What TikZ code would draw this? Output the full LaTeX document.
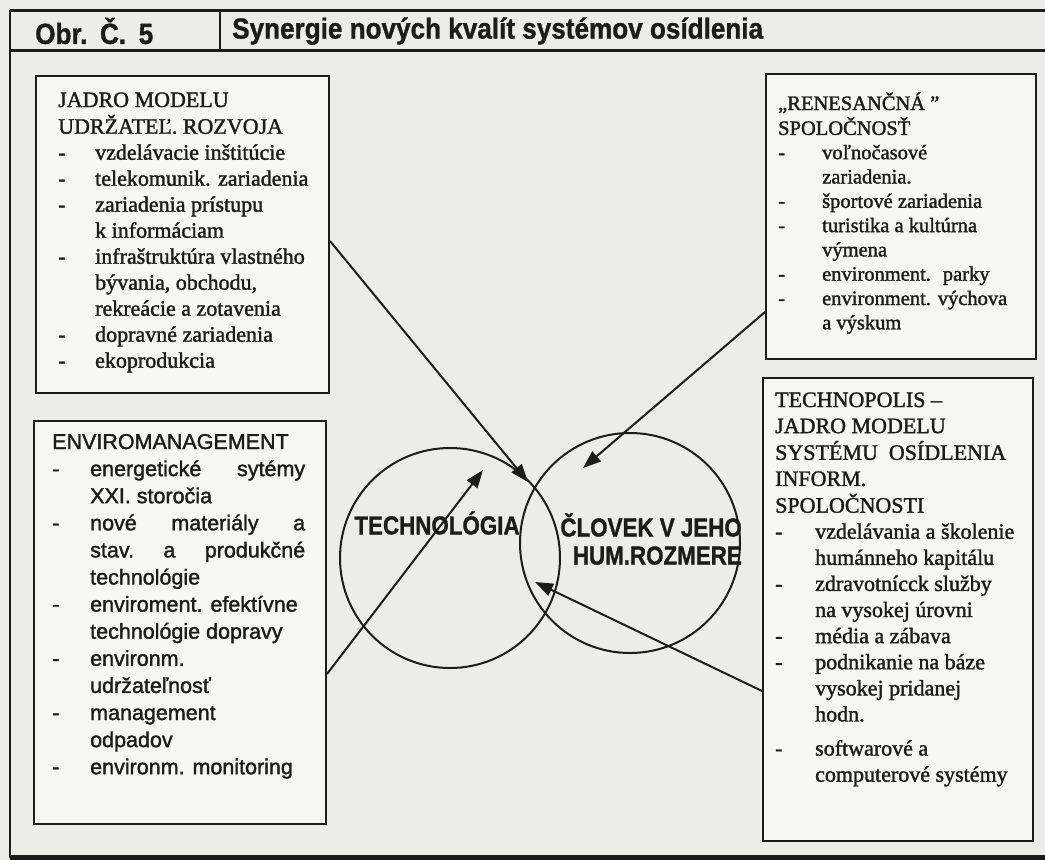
\documentclass[tikz,border=0pt]{standalone}
\usepackage{fontspec}
\usepackage{graphicx}
\setmainfont{Liberation Serif}[FakeBold=1.5]
\newfontfamily\sansf{Liberation Sans}[FakeBold=1.5]
\newfontfamily\sansbold{Liberation Sans Bold}[FakeBold=1.2]
\usetikzlibrary{arrows.meta}
\definecolor{paper}{HTML}{ECECEA}
\definecolor{boxfill}{HTML}{F6F6F4}
\definecolor{ink}{HTML}{1C1C1C}
\newcommand{\hd}[1]{\multicolumn{2}{@{}l@{}}{#1}}
\newcommand{\cnd}[1]{\scalebox{0.86}[1]{#1}}
\newcommand{\ttlc}[1]{\scalebox{0.9}[1]{#1}}
\begin{document}
\begin{tikzpicture}[x=1pt,y=-1pt,
  boxframe/.style={draw=ink, line width=2pt, fill=boxfill, anchor=north west, inner sep=0pt},
  rule/.style={draw=ink, line width=3pt},
  arr/.style={draw=ink, line width=2pt, -{Triangle[length=18pt,width=13pt]}},
  circ/.style={circle, draw=ink, line width=2pt, minimum size=220pt, inner sep=0pt},
  serifbody/.style={anchor=base west, inner sep=0pt, text=ink},
  sansbody/.style={anchor=base west, inner sep=0pt, text=ink, font=\sansf\fontsize{21.5}{27.1}\selectfont},
  lbl/.style={inner sep=0pt, text=ink, font=\sansbold\fontsize{26}{28}\selectfont},
  ttl/.style={inner sep=0pt, text=ink, font=\sansbold\fontsize{29}{32}\selectfont}
]
\useasboundingbox (0,0) rectangle (1045,860);
\fill[paper] (0,0) rectangle (1045,860);

% frame and title bar
\draw[rule] (10,10) -- (1045,10);
\draw[rule] (10,50) -- (1045,50);
\draw[draw=ink, line width=2.5pt] (10,10) -- (10,858);
\draw[draw=ink, line width=2pt] (220,10) -- (220,50);
\draw[draw=ink, line width=5pt] (10,857) -- (1045,857);
\node[ttl, anchor=west] (num) at (35,31) {\ttlc{Obr.\hspace{14pt}Č.\hspace{14pt}5}};
\node[ttl, anchor=west] (title) at (232,31) {\ttlc{Synergie nových kvalít systémov osídlenia}};

% boxes
\node[boxframe, minimum width=293pt, minimum height=317pt] (jadro) at (35,75) {};
\node[boxframe, minimum width=270pt, minimum height=285pt] (renes) at (765,73) {};
\node[boxframe, minimum width=292pt, minimum height=403pt] (enviro) at (33,420) {};
\node[boxframe, minimum width=270pt, minimum height=463pt] (techno) at (762,377) {};

% box texts
\node[serifbody, font=\fontsize{22}{26}\selectfont] (jadrotxt) at (58,107) {%
\begin{tabular}[t]{@{}p{37pt}@{}l@{}}
\hd{JADRO MODELU}\\
\hd{UDRŽATEĽ. ROZVOJA}\\
- & vzdelávacie inštitúcie\\
- & telekomunik. zariadenia\\
- & zariadenia prístupu\\
  & k informáciam\\
- & infraštruktúra vlastného\\
  & bývania, obchodu,\\
  & rekreácie a zotavenia\\
- & dopravné zariadenia\\
- & ekoprodukcia
\end{tabular}};

\node[serifbody, font=\fontsize{20.5}{24.3}\selectfont] (renestxt) at (778,110) {%
\begin{tabular}[t]{@{}p{44pt}@{}l@{}}
\hd{„RENESANČNÁ ”}\\
\hd{SPOLOČNOSŤ}\\
- & voľnočasové\\
  & zariadenia.\\
- & športové zariadenia\\
- & turistika a kultúrna\\
  & výmena\\
- & environment.~ parky\\
- & environment. výchova\\
  & a výskum
\end{tabular}};

\node[serifbody, font=\fontsize{22}{26.1}\selectfont] (technotxt) at (775,407) {%
\begin{tabular}[t]{@{}p{40pt}@{}l@{}}
\hd{TECHNOPOLIS –}\\
\hd{JADRO MODELU}\\
\hd{SYSTÉMU~ OSÍDLENIA}\\
\hd{INFORM.}\\
\hd{SPOLOČNOSTI}\\
- & vzdelávania a školenie\\
  & humánneho kapitálu\\
- & zdravotnícck služby\\
  & na vysokej úrovni\\
- & média a zábava\\
- & podnikanie na báze\\
  & vysokej pridanej\\
  & hodn.\\[8pt]
- & softwarové a\\
  & computerové systémy
\end{tabular}};

\node[sansbody] (envirotxt) at (52,449) {%
\begin{tabular}[t]{@{}p{38pt}@{}l@{}}
\hd{ENVIROMANAGEMENT}\\
- & \hbox to 215pt{energetické\hfill sytémy}\\
  & XXI. storočia\\
- & \hbox to 215pt{nové\hfill materiály\hfill a}\\
  & \hbox to 215pt{stav.\hfill a\hfill produkčné}\\
  & technológie\\
- & enviroment. efektívne\\
  & technológie dopravy\\
- & environm.\\
  & udržateľnosť\\
- & management\\
  & odpadov\\
- & environm. monitoring
\end{tabular}};

% circles
\node[circ] (tech) at (450,558) {};
\node[circ] (clovek) at (630,543) {};
\node[lbl] (techlbl) at (437,523) {\cnd{TECHNOLÓGIA}};
\node[lbl, anchor=east, align=right] (cloveklbl) at (742,539) {\cnd{ČLOVEK V JEHO}\\\cnd{HUM.ROZMERE}};

% arrows
\coordinate (t1) at (528,482);
\coordinate (t2) at (583,468);
\coordinate (t3) at (483,470);
\coordinate (t4) at (535,582);
\draw[arr] ([yshift=-6.5pt]jadro.east) -- (t1);
\draw[arr] ([yshift=-95.5pt]renes.west) -- (t2);
\draw[arr] ([yshift=-51.5pt]enviro.east) -- (t3);
\draw[arr] ([yshift=-81.5pt]techno.west) -- (t4);
\end{tikzpicture}
\end{document}
